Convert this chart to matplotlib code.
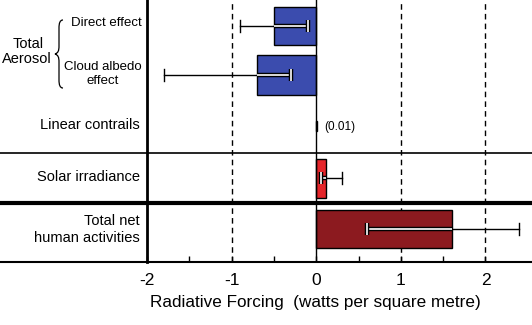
import numpy as np
import matplotlib.pyplot as plt
from matplotlib.path import Path
from matplotlib.patches import PathPatch
import matplotlib.patheffects as pe

plt.rcParams['font.family'] = ['Liberation Sans', 'DejaVu Sans']

# datos (W/m2)
nombres = ['Direct effect', 'Cloud albedo effect', 'Linear contrails', 'Solar irradiance', 'Total net human activities']
valores = [-0.5, -0.7, 0.01, 0.12, 1.6]
err_min = [-0.9, -1.8, None, 0.06, 0.6]
err_max = [-0.1, -0.3, None, 0.30, 2.4]
colores = ['#3b4cae', '#3b4cae', '#3b4cae', '#e5252a', '#8c1a1f']
ticks_x = [-2, -1, 0, 1, 2]

# layout (pixeles de la figura)
y_pos = [26, 75, 126, 178, 229]
alto = [38, 40, 10, 39, 38]
y_sep_fino = 153
y_sep_grueso = 203
y_abajo = 262
W, H = 532, 325
x_izq = 147

fig = plt.figure(figsize=(W/100, H/100), dpi=100)
ax = fig.add_axes([x_izq/W, 1 - y_abajo/H, 1 - x_izq/W, y_abajo/H])
ax.set_xlim(-2, 2.55)
ax.set_ylim(y_abajo, 0)

# lineas punteadas y linea del cero
for t in [-1, 1, 2]:
  ax.axvline(t, color='black', lw=1, ls=(0, (4, 3)), zorder=1)
ax.axvline(0, color='black', lw=1, zorder=4)

ax.barh(y_pos, valores, height=alto, color=colores, edgecolor='black', lw=1, zorder=3)

cap = 6
for i in range(len(valores)):
  if err_min[i] is None:
    continue
  v = valores[i]; y = y_pos[i]
  lo, hi = err_min[i], err_max[i]
  b0, b1 = min(0, v), max(0, v)
  # parte negra (fuera de la barra)
  ax.plot([lo, hi], [y, y], color='black', lw=1, zorder=5)
  for c in [lo, hi]:
    if not (b0 <= c <= b1):
      ax.plot([c, c], [y - cap, y + cap], color='black', lw=1, zorder=5)
  # parte blanca (dentro de la barra)
  s0, s1 = max(lo, b0), min(hi, b1)
  efecto = [pe.withStroke(linewidth=3.2, foreground='black')]
  ax.plot([s0, s1], [y, y], color='white', lw=1.2, zorder=6, path_effects=efecto, solid_capstyle='butt')
  for c in [lo, hi]:
    if b0 <= c <= b1:
      ax.plot([c, c], [y - cap, y + cap], color='white', lw=1.2, zorder=6, path_effects=efecto, solid_capstyle='butt')

ax.text(0.09, y_pos[2] + 1, '(0.01)', fontsize=8.5, va='center', ha='left')

# ejes
for s in ['top', 'right', 'bottom']:
  ax.spines[s].set_visible(False)
ax.spines['left'].set_linewidth(2)
ax.set_yticks([])
ax.set_xticks(ticks_x)
ax.set_xticklabels([str(t) for t in ticks_x], fontsize=12.5)
ax.set_xticks([-1.5, -0.5, 0.5, 1.5], minor=True)
ax.tick_params(axis='x', which='both', direction='in', length=4, width=1, pad=8)
ax.set_xlabel('Radiative Forcing  (watts per square metre)', fontsize=12.3, labelpad=4)
ax.xaxis.set_label_coords((315 - x_izq)/(W - x_izq), -0.125)

# separadores que cruzan toda la figura
trans = ax.get_yaxis_transform()
xmin = -x_izq/(W - x_izq)
ax.plot([xmin, 1], [y_sep_fino, y_sep_fino], color='black', lw=1.2, transform=trans, clip_on=False)
ax.plot([xmin, 1], [y_sep_grueso, y_sep_grueso], color='black', lw=3, transform=trans, clip_on=False)
ax.plot([xmin, 1], [y_abajo - 0.5, y_abajo - 0.5], color='black', lw=1.5, transform=trans, clip_on=False)

# etiquetas de la izquierda
ov = fig.add_axes([0, 0, 1, 1], zorder=-1)
ov.set_xlim(0, W); ov.set_ylim(H, 0); ov.axis('off')
ov.text(142, 23, 'Direct effect', fontsize=9.5, ha='right', va='center')
ov.text(103, 67, 'Cloud albedo', fontsize=9.5, ha='center', va='center')
ov.text(103, 81, 'effect', fontsize=9.5, ha='center', va='center')
ov.text(28, 44, 'Total', fontsize=10.5, ha='center', va='center')
ov.text(27, 59, 'Aerosol', fontsize=10.5, ha='center', va='center')
ov.text(140, 125, 'Linear contrails', fontsize=10.5, ha='right', va='center')
ov.text(140, 177, 'Solar irradiance', fontsize=10.5, ha='right', va='center')
ov.text(140, 221, 'Total net', fontsize=10.5, ha='right', va='center')
ov.text(140, 238, 'human activities', fontsize=10.5, ha='right', va='center')

verts = [(63, 20), (60, 20), (59, 23), (59, 28), (59, 46), (59, 51), (58, 53), (55, 54),
         (58, 55), (59, 57), (59, 62), (59, 80), (59, 85), (60, 88), (63, 88)]
codes = [Path.MOVETO, Path.CURVE4, Path.CURVE4, Path.CURVE4, Path.LINETO, Path.CURVE4, Path.CURVE4, Path.CURVE4,
         Path.CURVE4, Path.CURVE4, Path.CURVE4, Path.LINETO, Path.CURVE4, Path.CURVE4, Path.CURVE4]
ov.add_patch(PathPatch(Path(verts, codes), fill=False, lw=0.9, color='black'))

fig.savefig('out.png', dpi=100)
